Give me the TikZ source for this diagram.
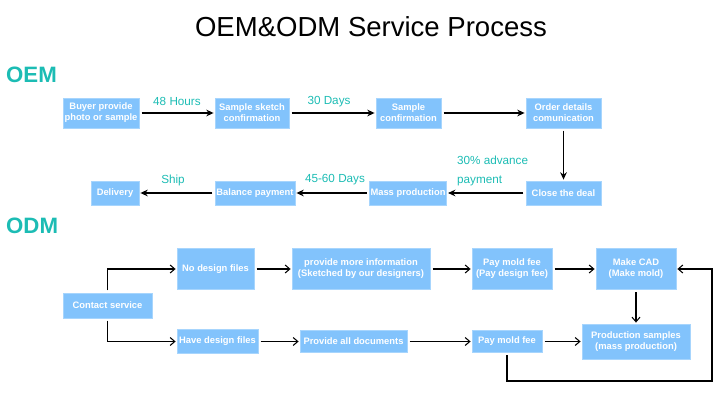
\documentclass[tikz,border=0pt]{standalone}
\usepackage{fontspec}
\setmainfont{Liberation Sans}
\usetikzlibrary{arrows.meta, positioning, calc}
\definecolor{boxblue}{HTML}{82C3FC}
\definecolor{accent}{HTML}{1CBCB4}

\begin{document}
\begin{tikzpicture}[
    x=0.03cm, y=-0.03cm,
    every node/.style={font=\fontsize{8}{9.5}\selectfont\bfseries},
    box/.style={fill=boxblue, draw=boxblue!70, text=white, inner sep=1pt,
                minimum height=0.9cm, align=center},
    lowbox/.style={box, minimum height=0.72cm},
    note/.style={text=accent, font=\fontsize{10}{16}\selectfont},
    heading/.style={text=accent, font=\fontsize{19}{22}\selectfont\bfseries},
    arr/.style={-{Stealth[length=2.2mm, width=2mm]}, line width=1pt,
                shorten >=1pt, shorten <=2pt},
    arrb/.style={-{Straight Barb[length=1.4mm, width=2.4mm]}, line width=0.9pt,
                 shorten >=1pt, shorten <=2pt}
]
    \useasboundingbox (0,0) rectangle (726,397);

    \node[font=\fontsize{23.5}{27}\selectfont] (title) at (371,27) {OEM\&ODM Service Process};

    % OEM
    \node[heading, anchor=west] (oem) at (2,75) {OEM};

    \node[box, minimum width=2.28cm] (buy) at (101,113) {Buyer provide\\photo or sample};
    \node[box, minimum width=2.22cm] (sk)  at (252,113) {Sample sketch\\confirmation};
    \node[box, minimum width=1.95cm] (sc)  at (408.5,113) {Sample\\confirmation};
    \node[box, minimum width=2.25cm] (od)  at (563.5,113) {Order details\\comunication};

    \node[lowbox, minimum width=2.25cm] (cd)  at (563.5,193) {Close the deal};
    \node[lowbox, minimum width=2.28cm] (mp)  at (408,193) {Mass production};
    \node[lowbox, minimum width=2.40cm] (bp)  at (255,193) {Balance payment};
    \node[lowbox, minimum width=1.44cm] (dl)  at (115,193) {Delivery};

    \draw[arr] (buy) -- (sk);
    \draw[arr] (sk) -- (sc);
    \draw[arr] (sc) -- (od);
    \draw[arr] (od) -- (cd);
    \draw[arr] (cd) -- (mp);
    \draw[arr] (mp) -- (bp);
    \draw[arr] (bp) -- (dl);

    \node[note] (t48)  at (177,101) {48 Hours};
    \node[note] (t30)  at (329,102) {30 Days};
    \node[note, anchor=west, align=left] (tadv) at (453,171) {30\% advance\\payment};
    \node[note] (t45)  at (335,180) {45-60 Days};
    \node[note] (tship) at (173,180) {Ship};

    % ODM
    \node[heading, anchor=west] (odm) at (2,226) {ODM};

    \node[box, minimum width=2.67cm, minimum height=0.75cm] (cs) at (107.5,305.5) {Contact service};

    \node[box, minimum width=2.31cm, minimum height=1.23cm] (nd)  at (215.5,269) {No design files};
    \node[box, minimum width=4.14cm, minimum height=1.23cm] (pmi) at (361,269) {provide more information\\(Sketched by our designers)};
    \node[box, minimum width=2.40cm, minimum height=1.23cm] (pm1) at (512,269) {Pay mold fee\\(Pay design fee)};
    \node[box, minimum width=2.40cm, minimum height=1.23cm] (cad) at (636,269) {Make CAD\\(Make mold)};

    \node[box, minimum width=2.43cm, minimum height=0.72cm] (hd)  at (217.5,341.5) {Have design files};
    \node[box, minimum width=3.21cm, minimum height=0.66cm] (pad) at (353.5,341.5) {Provide all documents};
    \node[box, minimum width=2.10cm, minimum height=0.66cm] (pm2) at (507,341.5) {Pay mold fee};
    \node[box, minimum width=3.24cm, minimum height=1.05cm] (ps)  at (636,341.5) {Production samples\\(mass production)};

    \coordinate (back) at (712,381);

    \draw[arrb] (cs.north) |- (nd.west);
    \draw[arrb] (cs.south) |- (hd.west);
    \draw[arrb] (nd) -- (pmi);
    \draw[arrb] (pmi) -- (pm1);
    \draw[arrb] (pm1) -- (cad);
    \draw[arrb] (cad) -- (ps);
    \draw[arrb] (hd) -- (pad);
    \draw[arrb] (pad) -- (pm2);
    \draw[arrb] (pm2) -- (ps);
    \draw[arrb] (pm2.south) |- (back) |- (cad.east);
\end{tikzpicture}
\end{document}
